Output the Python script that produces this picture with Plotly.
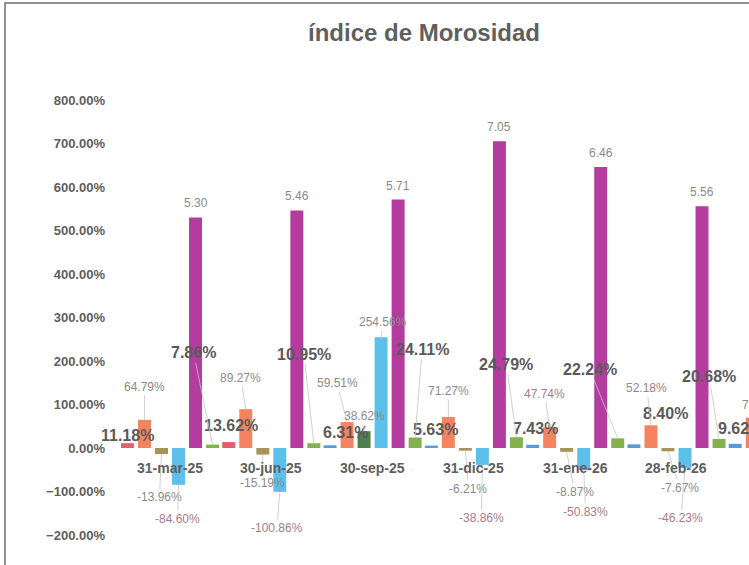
import plotly.graph_objects as go

# ---------------- data ----------------
categories = ["31-mar-25", "30-jun-25", "30-sep-25", "31-dic-25", "31-ene-26", "28-feb-26", "31-mar-26"]
serie_1 = [0.1118, 0.1362, 0.0631, 0.0563, 0.0743, 0.0840, 0.0962]
serie_2 = [0.6479, 0.8927, 0.5951, 0.7127, 0.4774, 0.5218, 0.7000]
serie_3 = [-0.1396, -0.1519, 0.3862, -0.0621, -0.0887, -0.0767, None]
serie_4 = [-0.8460, -1.0086, 2.5456, -0.3886, -0.5083, -0.4623, None]
serie_5 = [5.30, 5.46, 5.71, 7.05, 6.46, 5.56, None]
serie_6 = [0.0786, 0.1095, 0.2411, 0.2479, 0.2224, 0.2068, None]
y_ticks = [-2, -1, 0, 1, 2, 3, 4, 5, 6, 7, 8]

# ---------------- style ----------------
FONT = "Liberation Sans, Arial, sans-serif"
c_red, c_blue1 = "#E2606C", "#5B9BD5"
c_orange = "#F4845F"
c_olive, c_dgreen = "#A8935A", "#4F7F4D"
c_sky = "#5CC0EA"
c_mag = "#B43C9F"
c_green = "#84B24E"
s1_colors = [c_red, c_red, c_blue1, c_blue1, c_blue1, c_blue1, c_blue1]
s3_colors = [c_olive, c_olive, c_dgreen, c_olive, c_olive, c_olive, c_olive]

step, bw = 0.168, 0.128
offs = [-2.5, -1.5, -0.5, 0.5, 1.5, 2.5]
x_min, x_max = -0.543, 5.716
plot_w = 749 - 115
pxu = plot_w / (x_max - x_min)

series = [
    (serie_1, s1_colors),
    (serie_2, c_orange),
    (serie_3, s3_colors),
    (serie_4, c_sky),
    (serie_5, c_mag),
    (serie_6, c_green),
]

fig = go.Figure()
xs_all = []
for k, (vals, col) in enumerate(series):
    xs = [i + offs[k] * step for i in range(len(categories))]
    xs_all.append(xs)
    fig.add_trace(go.Bar(x=xs, y=vals, width=bw, marker=dict(color=col, line=dict(width=0)),
                         showlegend=False, hoverinfo="skip"))

ann = []
gray = "#8A8A8A"
mauve = "#A47C8C"
lead = "#C4C4C4"

def add_lab(x, y, text, ax, ay, size=12, color=gray, bold=False, arrow=True):
    if y is None:
        return
    xshift = 0
    if x > x_max:
        xshift = (x - (x_max - 0.002)) * pxu
        x = x_max - 0.002
    txt = f"<b>{text}</b>" if bold else text
    if arrow and xshift == 0:
        ann.append(dict(x=x, y=y, xref="x", yref="y", text=txt, showarrow=True, arrowhead=0,
                        arrowwidth=0.8, arrowcolor=lead, ax=ax, ay=ay, standoff=0,
                        font=dict(family=FONT, size=size, color=color)))
    else:
        ann.append(dict(x=x, y=y, xref="x", yref="y", text=txt, showarrow=False,
                        xshift=ax + xshift, yshift=-ay, xanchor="center", yanchor="middle",
                        font=dict(family=FONT, size=size, color=color)))

# label offsets (pixels)
s1_off = [(0, -8), (2, -17), (15, -13), (4, -16), (3, -16), (32, -31), (5, -15)]
s2_off = [(0, -33), (-5, -31), (-10, -39), (0, -26), (-5, -33), (-4, -37), (10, -13)]
s3_off = [(-2, 43), (0, 28), (0, -15), (3, 38), (8, 40), (12, 37)]
s4_off = [(-1, 34), (-3, 36), (2, -15), (-1, 53), (2, 42), (-4, 50)]
s6_off = [(-19, -92), (-10, -89), (7, -88), (-10, -73), (-28, -69), (-10, -63)]
s2_col = [gray, gray, gray, gray, mauve, mauve, gray]
s4_col = [mauve, mauve, gray, mauve, mauve, mauve]

for i in range(len(categories)):
    add_lab(xs_all[0][i], serie_1[i], f"{serie_1[i]*100:.2f}%", *s1_off[i], size=16,
            color="#5A5A5A", bold=True, arrow=False)
    add_lab(xs_all[1][i], serie_2[i], f"{serie_2[i]*100:.2f}%", *s2_off[i], color=s2_col[i],
            arrow=(i < 6))
for i in range(6):
    add_lab(xs_all[2][i], serie_3[i], f"{serie_3[i]*100:.2f}%", *s3_off[i], color=gray)
    add_lab(xs_all[3][i], serie_4[i], f"{serie_4[i]*100:.2f}%", *s4_off[i], color=s4_col[i])
    add_lab(xs_all[4][i], serie_5[i], f"{serie_5[i]:.2f}", 0, -14, color=gray, arrow=False)
    add_lab(xs_all[5][i], serie_6[i], f"{serie_6[i]*100:.2f}%", *s6_off[i], size=16,
            color="#5A5A5A", bold=True)

# category labels near the zero line
for i, c in enumerate(categories):
    if x_min <= i <= x_max:
        ann.append(dict(x=i, y=0, xref="x", yref="y", text=f"<b>{c}</b>", showarrow=False,
                        yshift=-20, xanchor="center", yanchor="middle",
                        font=dict(family=FONT, size=14, color="#5E5E5E")))

fig.update_layout(
    width=749, height=565,
    margin=dict(l=115, r=0, t=100, b=30),
    paper_bgcolor="white", plot_bgcolor="white",
    barmode="overlay",
    title=dict(text="<b>índice de Morosidad</b>", x=424 / 749, xref="container", xanchor="center",
               y=1 - 33 / 565, yref="container", yanchor="middle",
               font=dict(family=FONT, size=24, color="#5F5F5F")),
    xaxis=dict(range=[x_min, x_max], showticklabels=False, showgrid=False, zeroline=False,
               showline=False, ticks=""),
    yaxis=dict(range=[-2.0, 8.0], tickvals=y_ticks, tickformat=".2%", showgrid=False,
               zeroline=False, showline=False, ticks="", ticklabelstandoff=9,
               tickfont=dict(family=FONT, size=13, color="#5E5E5E")),
    annotations=ann,
    shapes=[dict(type="rect", xref="paper", yref="paper", x0=-0.1735, y0=-0.2, x1=1.2, y1=1.223,
                 line=dict(color="#6E6E6E", width=1.5), fillcolor="rgba(0,0,0,0)", layer="below")],
)
fig.update_yaxes(tickfont=dict(weight="bold"))

fig.write_html("out.html", config={"displayModeBar": False},
               post_script="document.body.style.margin='0';document.body.style.overflow='hidden';")
